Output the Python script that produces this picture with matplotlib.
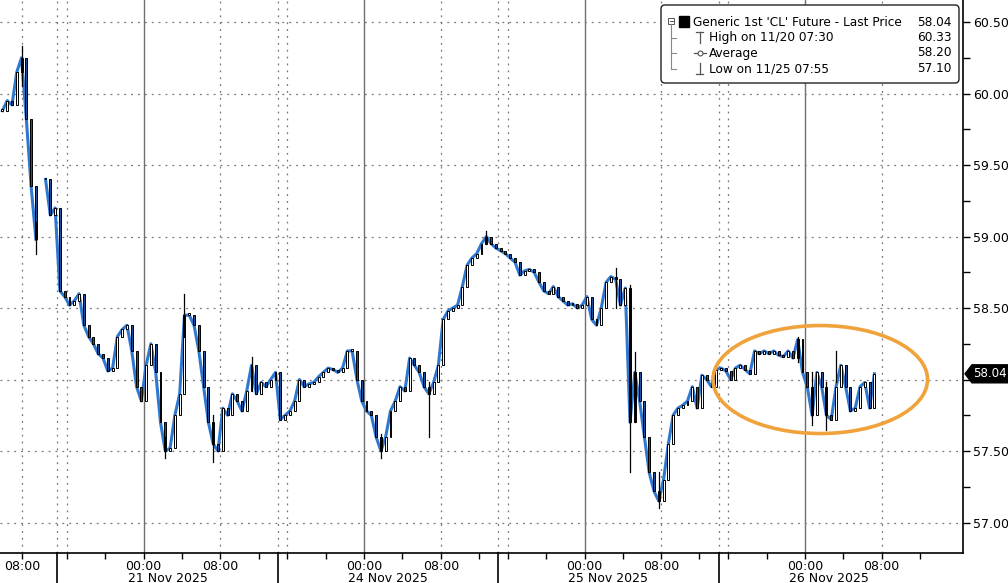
import numpy as np
import matplotlib.pyplot as plt
import matplotlib.transforms as mtransforms
from matplotlib.patches import Ellipse, FancyBboxPatch, Rectangle, Polygon

# 30-minute closes, Generic 1st 'CL' Future (nan = no trading)
closes = [
    59.88, 59.95, 59.92, 60.15, 60.25, 59.82, 59.35, 58.98, np.nan, 59.40,
    59.15, 59.20, 58.62, 58.58, 58.52, 58.55, 58.60, 58.38, 58.30, 58.25,
    58.18, 58.15, 58.06, 58.08, 58.30, 58.35, 58.38, 58.20, 57.95, 57.85,
    58.10, 58.25, 58.05, 57.70, 57.50, 57.52, 57.75, 57.90, 58.45, 58.45,
    58.38, 58.20, 57.95, 57.70, 57.55, 57.50, 57.80, 57.75, 57.90, 57.85,
    57.78, 57.92, 58.10, 57.90, 57.98, 57.95, 58.00, 58.05, 57.72, 57.75,
    57.78, 57.85, 58.00, 57.95, 57.97, 57.98, 58.02, 58.05, 58.08, 58.07,
    58.05, 58.08, 58.20, 58.20, 58.00, 57.85, 57.78, 57.75, 57.60, 57.50,
    57.60, 57.78, 57.85, 57.95, 57.92, 58.15, 58.10, 58.05, 57.95, 57.90,
    57.98, 58.10, 58.42, 58.48, 58.50, 58.52, 58.65, 58.80, 58.85, 58.88,
    58.95, 59.00, 58.95, 58.92, 58.90, 58.88, 58.85, 58.82, 58.73, 58.76,
    58.77, 58.75, 58.68, 58.62, 58.60, 58.65, 58.58, 58.55, 58.52, 58.53,
    58.50, 58.52, 58.58, 58.42, 58.38, 58.50, 58.68, 58.72, 58.70, 58.52,
    58.64, 57.70, 58.05, 57.85, 57.60, 57.35, 57.22, 57.15, 57.30, 57.55,
    57.75, 57.80, 57.82, 57.85, 57.95, 57.80, 58.03, 58.00, 57.95, 58.07,
    58.08, 58.06, 58.00, 58.08, 58.10, 58.07, 58.04, 58.20, 58.18, 58.20,
    58.18, 58.20, 58.17, 58.16, 58.20, 58.15, 58.28, 58.05, 57.95, 57.75,
    58.05, 57.95, 57.75, 57.72, 57.95, 58.10, 57.95, 57.78, 57.80, 57.95,
    57.98, 57.80, 58.04,
]
bar_hours = 0.5

# bars whose wicks reach past the body
spike_bars = [4, 7, 34, 38, 44, 52, 79, 89, 101, 128, 131, 132, 137, 166, 169, 172, 174]
spike_highs = [60.33, 59.10, 57.60, 58.60, 57.75, 58.16, 57.62, 57.98, 59.04, 58.78,
               58.66, 58.19, 57.35, 58.30, 58.05, 57.98, 58.20]
spike_lows = [60.05, 58.88, 57.45, 58.30, 57.42, 57.92, 57.45, 57.60, 58.95, 58.50,
              57.35, 57.70, 57.10, 58.12, 57.68, 57.65, 57.98]

# axis layout in trading hours (one block = one session day)
block_starts = [6.0, 29.0, 52.0, 75.0]
day_labels = ['21 Nov 2025', '24 Nov 2025', '25 Nov 2025', '26 Nov 2025']
midnight_ticks = [15.0, 38.0, 61.0, 84.0]
morning_ticks = [2.3, 23.0, 46.0, 69.0, 92.0]

legend_rows = [
    ("Generic 1st 'CL' Future - Last Price", '58.04'),
    ('High on 11/20 07:30', '60.33'),
    ('Average', '58.20'),
    ('Low on 11/25 07:55', '57.10'),
]
last_price = 58.04

blue = '#2f78d0'
grid_c = '#777777'

fig = plt.figure(figsize=(10.08, 5.83), dpi=100)
ax = fig.add_axes([0, 30 / 583, 963 / 1008, 553 / 583])

c = np.array(closes, dtype=float)
x = (np.arange(len(c)) + 0.5) * bar_hours
o = np.empty_like(c)
o[0] = c[0]
o[1:] = c[:-1]
o = np.where(np.isnan(o), c, o)

ax.plot(x, c, color=blue, lw=2.2, zorder=3)
for xi, oi, ci in zip(x, o, c):
    if np.isnan(ci):
        continue
    lo, hi = min(oi, ci), max(oi, ci)
    h = max(hi - lo, 0.012)
    fc = 'white' if ci >= oi else '#1d4f9e'
    ax.add_patch(Rectangle((xi - 0.1, lo), 0.2, h, facecolor=fc,
                           edgecolor='black', lw=0.7, zorder=4))
for b, hi, lo in zip(spike_bars, spike_highs, spike_lows):
    ax.plot([x[b], x[b]], [lo, hi], color='black', lw=0.9, zorder=4)

ax.set_xlim(0, 100.5)
ax.set_ylim(56.787, 60.654)

# y axis on the right
yt = np.arange(57.0, 60.51, 0.5)
ax.yaxis.tick_right()
ax.set_yticks(yt)
ax.set_yticks(np.arange(57.25, 60.6, 0.5), minor=True)
# the 58.00 label sits under the last-price tag
ax.set_yticklabels(['' if abs(v - 58.0) < 1e-6 else f'{v:.2f}' for v in yt])
ax.tick_params(axis='y', which='both', direction='out', length=5, width=1,
               labelsize=9, pad=2, right=True, left=False)
ax.grid(axis='y', linestyle=(0, (1.5, 4)), color=grid_c, lw=0.9)

# x axis
minor = [2.3] + [s + k for s in block_starts for k in (1, 5, 9, 13, 17, 21)]
ax.set_xticks(minor, minor=True)
major = sorted(morning_ticks + midnight_ticks)
ax.set_xticks(major)
ax.set_xticklabels(['08:00' if t in morning_ticks else '00:00' for t in major])
ax.tick_params(axis='x', which='both', direction='out', length=4, width=1,
               labelsize=9, pad=1)

for t in midnight_ticks:
    ax.axvline(t, color='#707070', lw=1.0, zorder=1)
for t in morning_ticks + block_starts + [s + 1 for s in block_starts]:
    ax.axvline(t, color=grid_c, lw=0.9, ls=(0, (1.5, 4)), zorder=1)

for sp in ('left', 'top'):
    ax.spines[sp].set_visible(False)
ax.spines['right'].set_linewidth(1.2)
ax.spines['bottom'].set_linewidth(1.2)

bt = mtransforms.blended_transform_factory(ax.transData, ax.transAxes)
for s, lab in zip(block_starts, day_labels):
    ax.plot([s, s], [0, -0.06], color='black', lw=1.2, transform=bt,
            clip_on=False)
    ax.text(s + 11.5, -0.0525, lab, transform=bt, ha='center',
            va='baseline', fontsize=9)

# highlight ellipse
ax.add_patch(Ellipse((85.6, 58.0), 22.4, 0.755, fill=False,
                     ec='#f0a23c', lw=2.6, zorder=6))

# overlay in pixel space for legend and price tag
lg = fig.add_axes([0, 0, 1, 1], facecolor='none')
lg.set_xlim(0, 1008)
lg.set_ylim(583, 0)
lg.axis('off')

tag_y = 583 - ax.transData.transform((0, last_price))[1]
lg.add_patch(Polygon([(965, tag_y), (972, tag_y - 9), (1008, tag_y - 9),
                      (1008, tag_y + 9), (972, tag_y + 9)],
                     closed=True, fc='black', ec='black'))
lg.text(973, tag_y, f'{last_price:.2f}', ha='left', va='center',
        color='white', fontsize=8.6)

lg.add_patch(FancyBboxPatch((661, 5), 298, 78,
                            boxstyle='round,pad=0,rounding_size=4',
                            fc='white', ec='#222222', lw=1.0))
row_y = [22, 37.5, 53, 69]
lg.add_patch(Rectangle((668, 17.5), 6, 6, fc='white', ec='#555555', lw=0.7))
lg.plot([669.5, 672.5], [20.5, 20.5], color='#555555', lw=0.7)
lg.plot([671, 671], [23.5, row_y[3]], color='#888888', lw=0.8)
for yy in row_y[1:]:
    lg.plot([671, 676], [yy, yy], color='#888888', lw=0.8)
lg.add_patch(Rectangle((679, 16), 10, 11, fc='black', ec='black'))
# high marker
lg.plot([696, 703], [32, 32], color='#555555', lw=0.9)
lg.plot([699.5, 699.5], [32, 43], color='#555555', lw=0.9)
# average marker
lg.plot([694, 706], [53, 53], color='#555555', lw=0.9)
lg.plot([700], [53], marker='o', ms=3.5, mfc='white', mec='#555555', mew=0.8)
# low marker
lg.plot([699.5, 699.5], [63, 74], color='#555555', lw=0.9)
lg.plot([696, 703], [74, 74], color='#555555', lw=0.9)
for k, (lab, val) in enumerate(legend_rows):
    x0 = 693 if k == 0 else 709
    lg.text(x0, row_y[k], lab, ha='left', va='center', fontsize=8.7)
    lg.text(952, row_y[k], val, ha='right', va='center', fontsize=8.7)

fig.savefig('out.png', dpi=100)
